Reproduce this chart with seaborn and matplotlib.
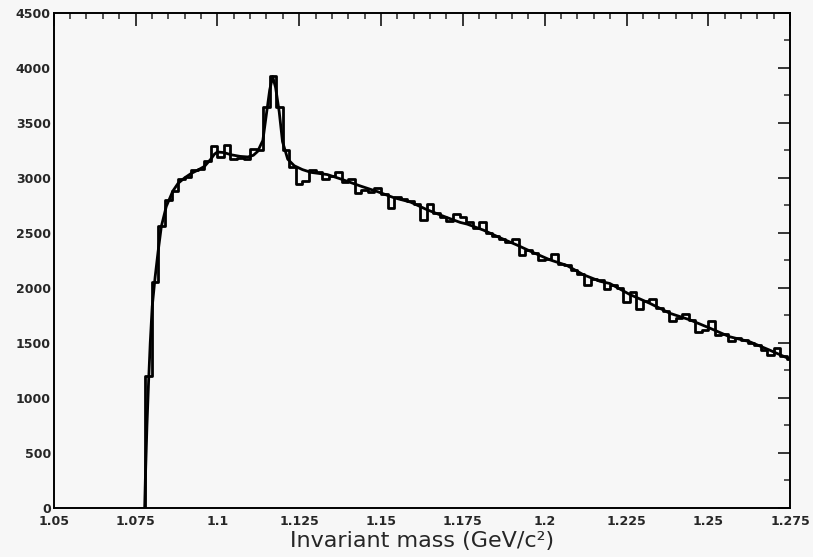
"""Invariant mass spectrum: histogram with fitted curve."""

import matplotlib

matplotlib.use("Agg")

import matplotlib.pyplot as plt
import numpy as np
import pandas as pd
import seaborn as sns
from matplotlib.ticker import FuncFormatter, MultipleLocator


# %%
# Datos
BIN_START = 1.076
BIN_WIDTH = 0.002

counts = [
    0,
    1200, 2050, 2560, 2800, 2880, 2990, 3010, 3070, 3080, 3150,
    3290, 3190, 3300, 3170, 3180, 3170, 3260, 3250, 3640, 3930,
    3640, 3250, 3100, 2940, 2970, 3070, 3050, 2990, 3020, 3050,
    2960, 2990, 2860, 2890, 2870, 2910, 2850, 2730, 2830, 2810,
    2790, 2760, 2620, 2760, 2680, 2640, 2610, 2670, 2640, 2600,
    2540, 2600, 2500, 2470, 2440, 2420, 2440, 2300, 2340, 2320,
    2250, 2260, 2310, 2220, 2210, 2160, 2130, 2030, 2080, 2070,
    1990, 2030, 2000, 1870, 1960, 1810, 1880, 1900, 1820, 1790,
    1700, 1730, 1760, 1710, 1600, 1620, 1700, 1570, 1580, 1515,
    1545, 1530, 1500, 1480, 1440, 1390, 1450, 1380, 1350,
]

fit_mass = [
    1.0778, 1.0780, 1.0785, 1.0790, 1.0795, 1.0801, 1.0810, 1.0819,
    1.0829, 1.0844, 1.0864, 1.0880, 1.0900, 1.0920, 1.0940, 1.0961,
    1.0980, 1.0991, 1.1000, 1.1020, 1.1042, 1.1070, 1.1093, 1.1110,
    1.1123, 1.1139, 1.1149, 1.1160, 1.1169, 1.1178, 1.1189, 1.1199,
    1.1215, 1.1235, 1.1260, 1.1286, 1.1336, 1.1377, 1.1438, 1.1489,
    1.1539, 1.1590, 1.1641, 1.1692, 1.1742, 1.1763, 1.1813, 1.1864,
    1.1915, 1.1966, 1.2016, 1.2067, 1.2118, 1.2169, 1.2199, 1.2260,
    1.2321, 1.2382, 1.2443, 1.2504, 1.2564, 1.2625, 1.2686, 1.2742,
    1.2750,
]
fit_counts = [
    0, 250, 750, 1150, 1500, 1830, 2100, 2330,
    2560, 2740, 2880, 2950, 3000, 3040, 3070, 3105,
    3170, 3215, 3235, 3230, 3210, 3195, 3190, 3205,
    3240, 3340, 3560, 3800, 3920, 3820, 3600, 3330,
    3170, 3110, 3075, 3050, 3030, 2990, 2925, 2875,
    2820, 2780, 2710, 2650, 2595, 2580, 2525, 2455,
    2390, 2320, 2255, 2205, 2120, 2060, 2040, 1940,
    1860, 1770, 1710, 1635, 1557, 1512, 1436, 1362,
    1350,
]

X_LIMITS = (1.05, 1.275)
Y_LIMITS = (0, 4500)
XLABEL = "Invariant mass (GeV/c²)"
BACKGROUND = "#f7f7f7"


# %%
# Estilo
sns.set_theme(style="white")
plt.rcParams.update(
    {
        "font.family": ["DejaVu Sans"],
        "figure.facecolor": BACKGROUND,
        "axes.facecolor": BACKGROUND,
        "axes.edgecolor": "black",
        "axes.linewidth": 1.4,
    }
)

n_bins = len(counts)
hist_df = pd.DataFrame(
    {
        "mass": BIN_START + BIN_WIDTH * (np.arange(n_bins) + 0.5),
        "count": counts,
    }
)
fit_df = pd.DataFrame({"mass": fit_mass, "count": fit_counts})


# %%
# Figura
fig = plt.figure(figsize=(8.13, 5.57), dpi=100)
ax = fig.add_axes([0.066, 0.088, 0.906, 0.889])

sns.histplot(
    data=hist_df,
    x="mass",
    weights="count",
    binwidth=BIN_WIDTH,
    binrange=(BIN_START, BIN_START + BIN_WIDTH * n_bins),
    element="step",
    fill=False,
    color="black",
    linewidth=2.0,
    ax=ax,
)
sns.lineplot(
    data=fit_df,
    x="mass",
    y="count",
    sort=False,
    estimator=None,
    color="black",
    linewidth=2.0,
    ax=ax,
)

ax.set_xlim(*X_LIMITS)
ax.set_ylim(*Y_LIMITS)
ax.xaxis.set_major_locator(MultipleLocator(0.025))
ax.xaxis.set_minor_locator(MultipleLocator(0.005))
ax.yaxis.set_major_locator(MultipleLocator(500))
ax.yaxis.set_minor_locator(MultipleLocator(250))
ax.xaxis.set_major_formatter(FuncFormatter(lambda v, _: f"{v:.3f}".rstrip("0")))
ax.yaxis.set_major_formatter(FuncFormatter(lambda v, _: f"{v:.0f}"))

ax.tick_params(
    which="major", direction="in", top=True, right=True,
    length=9, width=1.3, labelsize=9, pad=2,
)
ax.tick_params(axis="x", which="major", pad=5)
ax.tick_params(which="minor", direction="in", top=True, right=True, length=4.5, width=1.1)
for label in ax.get_xticklabels() + ax.get_yticklabels():
    label.set_fontweight("bold")

ax.set_xlabel(XLABEL, fontsize=16, labelpad=2)
ax.set_ylabel("")
for spine in ax.spines.values():
    spine.set_visible(True)

fig.savefig("out.png", dpi=100, facecolor=BACKGROUND)
